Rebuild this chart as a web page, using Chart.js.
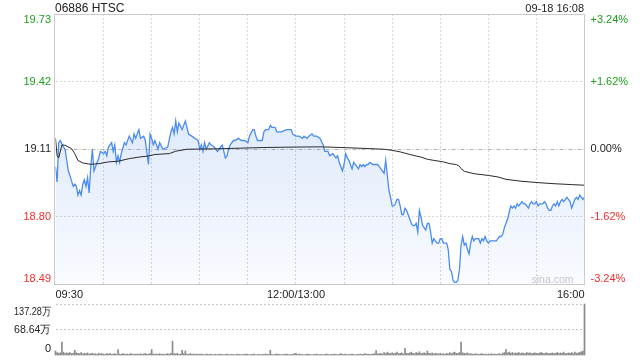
<!DOCTYPE html>
<html><head><meta charset="utf-8">
<script src="https://cdn.jsdelivr.net/npm/chart.js@4"></script>
<style>
html,body{margin:0;padding:0;background:#fff;}
#wrap{position:relative;width:640px;height:360px;overflow:hidden;}
canvas{position:absolute;left:0;top:0;}
</style></head><body>
<div id="wrap"><canvas id="pc" width="640" height="360"></canvas><canvas id="vc" width="640" height="360"></canvas></div>
<script>
const titleText = '06886 HTSC';
const stampText = '09-18 16:08';
const prevClose = 19.11;
const priceTicks = [18.49, 18.80, 19.11, 19.42, 19.73];
const priceTickLabels = ['18.49', '18.80', '19.11', '19.42', '19.73'];
const pctLabels = ['-3.24%', '-1.62%', '0.00%', '+1.62%', '+3.24%'];
const timeTickMinutes = [0, 150, 330];
const timeTickLabels = ['09:30', '12:00/13:00', '16:00'];
const volumeTicks = [0, 68.64, 137.28];
const volumeTickLabels = ['0', '68.64万', '137.28万'];

const priceMinutes = [0,1,2,3,5,6,8,9,11,12,13,14,15,16,17,18,19,20,21,22,23,24,26,27,28,30,31,32,33,35,36,37,38,39,40,41,43,44,46,48,49,50,52,53,55,56,58,59,60,61,62,64,65,67,70,72,73,74,75,76,77,79,81,82,83,85,87,89,90,91,92,93,94,96,97,99,101,102,104,105,106,107,108,109,111,112,114,116,118,120,121,123,124,125,126,129,130,131,133,134,135,137,138,141,144,147,148,150,152,154,155,157,158,160,161,163,165,167,168,170,171,173,174,175,176,177,179,180,181,182,183,184,185,186,188,189,190,191,192,193,194,195,196,198,200,201,202,204,205,206,207,208,209,210,211,212,213,214,215,216,217,218,219,220,221,222,223,224,225,226,227,228,229,230,231,232,233,234,235,236,237,238,239,240,241,242,244,245,246,247,248,249,250,251,252,253,254,255,256,257,258,259,260,261,262,264,265,266,267,268,269,270,271,272,273,274,275,276,277,278,279,280,281,282,283,284,285,286,287,288,289,290,291,292,293,294,295,296,297,298,299,300,301,302,303,304,305,306,307,308,309,310,311,312,313,314,315,316,317,318,319,320,321,322,323,324,325,326,327,328,329,330];
const priceValues = [19.03,18.96,19.14,19.15,19.12,19.11,19.01,18.99,18.94,18.95,18.94,18.90,18.92,18.90,18.95,18.97,18.94,18.98,18.91,19.03,19.11,19.01,19.05,19.07,19.10,19.09,19.10,19.08,19.12,19.14,19.10,19.13,19.05,19.08,19.05,19.09,19.14,19.13,19.17,19.14,19.18,19.16,19.20,19.16,19.17,19.15,19.04,19.18,19.16,19.13,19.15,19.11,19.14,19.11,19.12,19.19,19.21,19.18,19.24,19.19,19.23,19.20,19.24,19.21,19.18,19.17,19.16,19.15,19.11,19.13,19.10,19.14,19.11,19.14,19.13,19.12,19.10,19.11,19.13,19.10,19.07,19.08,19.11,19.13,19.15,19.15,19.16,19.15,19.15,19.14,19.17,19.20,19.20,19.17,19.15,19.15,19.19,19.20,19.20,19.22,19.21,19.21,19.19,19.19,19.20,19.20,19.18,19.17,19.17,19.16,19.17,19.16,19.17,19.18,19.17,19.17,19.16,19.13,19.10,19.10,19.08,19.09,19.08,19.07,19.08,19.05,19.01,19.04,19.09,19.07,19.06,19.04,19.02,19.05,19.03,19.02,19.04,19.03,19.04,19.03,19.04,19.04,19.05,19.04,19.04,19.04,19.03,19.01,19.00,19.06,18.99,18.92,18.89,18.85,18.85,18.86,18.88,18.88,18.85,18.81,18.81,18.84,18.83,18.81,18.79,18.77,18.76,18.76,18.77,18.73,18.83,18.80,18.76,18.75,18.74,18.77,18.77,18.73,18.68,18.70,18.69,18.68,18.68,18.70,18.70,18.68,18.68,18.65,18.56,18.55,18.51,18.50,18.50,18.51,18.56,18.67,18.71,18.67,18.68,18.65,18.63,18.68,18.71,18.69,18.70,18.70,18.68,18.70,18.69,18.71,18.69,18.68,18.69,18.69,18.69,18.69,18.69,18.70,18.71,18.71,18.72,18.75,18.77,18.79,18.82,18.85,18.84,18.85,18.84,18.86,18.85,18.86,18.87,18.86,18.86,18.85,18.84,18.86,18.87,18.86,18.86,18.87,18.85,18.86,18.86,18.86,18.87,18.86,18.84,18.83,18.83,18.85,18.86,18.85,18.87,18.85,18.87,18.88,18.87,18.88,18.89,18.88,18.87,18.84,18.86,18.88,18.89,18.88,18.90,18.89,18.88,18.89];

const avgMinutes = [0,1,2,4,6,10,12,14,17,22,27,33,39,46,52,58,62,71,75,82,100,130,150,166,178,196,205,210,215,221,228,232,236,242,246,250,252,253,255,261,270,276,281,291,301,311,322,330];
const avgValues = [19.16,19.08,19.07,19.13,19.128,19.113,19.09,19.059,19.047,19.041,19.044,19.052,19.055,19.067,19.074,19.079,19.086,19.090,19.101,19.110,19.112,19.118,19.120,19.121,19.118,19.113,19.110,19.105,19.098,19.086,19.074,19.064,19.059,19.052,19.044,19.040,19.032,19.021,19.009,18.998,18.990,18.983,18.972,18.963,18.957,18.952,18.948,18.945];

// volume per minute (万), minute 0..330
const volumeValues = [
12,8,6,7,36,9,5,7,6,8,
5,6,14,7,6,5,8,4,6,5,
7,4,5,6,4,5,3,6,4,5,
4,3,5,4,6,3,4,5,3,16,
4,3,5,4,3,4,3,5,3,4,
3,4,3,5,3,4,6,3,4,5,
16,4,3,4,3,5,3,4,3,4,
5,3,6,38,5,4,6,3,4,14,
5,12,4,3,5,3,4,3,4,3,
3,4,3,2,4,3,3,4,2,3,
3,2,4,3,3,2,3,4,3,2,
3,3,2,4,3,3,2,3,3,4,
3,2,3,3,4,2,3,3,2,3,
3,4,3,3,14,3,2,3,4,3,
3,2,3,3,4,3,2,3,3,5,
6,3,4,3,3,2,3,4,3,3,
2,3,3,4,2,3,3,2,3,4,
3,2,3,3,4,3,2,3,5,3,
3,4,2,3,3,4,3,2,3,3,
4,3,3,5,3,4,3,3,4,5,
13,4,5,6,4,8,5,9,6,5,
7,5,6,9,5,6,7,4,19,6,
5,7,9,6,5,8,6,10,5,6,
7,5,12,6,5,7,4,6,5,4,
6,4,5,3,6,4,8,5,7,9,
6,5,8,36,7,6,5,7,4,5,
4,3,5,4,3,4,5,3,4,3,
4,3,5,3,4,3,4,5,3,6,
8,16,7,9,6,8,5,7,6,8,
5,7,6,5,8,6,7,5,6,7,
6,5,7,8,6,5,7,6,5,6,
7,5,6,8,5,7,6,9,5,6,
7,6,8,5,9,6,7,8,10,12,
137.28];

const FONT = '"Liberation Sans", Arial, Helvetica, sans-serif';
const GREEN = '#1c9f1c', RED = '#ee2d2d', DARK = '#222';
function valColor(v){ return v > prevClose + 1e-9 ? GREEN : (v < prevClose - 1e-9 ? RED : DARK); }

const priceDecor = {
  id: 'priceDecor',
  beforeDatasetsDraw(chart){
    const {ctx, chartArea: a, scales: {y}} = chart;
    ctx.save();
    const py = Math.floor(y.getPixelForValue(prevClose)) + 0.5;
    ctx.strokeStyle = '#b0b0b0'; ctx.lineWidth = 1; ctx.setLineDash([4,2,1,2]);
    ctx.beginPath(); ctx.moveTo(a.left, py); ctx.lineTo(a.right, py); ctx.stroke();
    ctx.setLineDash([]);
    ctx.font = '10.5px ' + FONT; ctx.fillStyle = '#cbcbcb';
    ctx.textAlign = 'right'; ctx.textBaseline = 'alphabetic';
    ctx.fillText('sina.com', a.right - 11, a.bottom - 1.5);
    ctx.restore();
  },
  afterDraw(chart){
    const {ctx, chartArea: a, scales: {x, y}} = chart;
    ctx.save();
    ctx.strokeStyle = '#cacaca'; ctx.lineWidth = 1;
    const l = Math.floor(a.left) - 0.5, t = Math.floor(a.top) + 0.5;
    ctx.strokeRect(l, t, Math.floor(a.right) - Math.floor(a.left) + 1, Math.floor(a.bottom) - Math.floor(a.top));
    ctx.font = '11px ' + FONT; ctx.textBaseline = 'middle';
    priceTicks.forEach((v, i) => {
      let py = y.getPixelForValue(v);
      if (i === 0) py -= 6; else if (i === priceTicks.length - 1) py += 6;
      ctx.fillStyle = valColor(v);
      ctx.textAlign = 'right'; ctx.fillText(priceTickLabels[i], a.left - 4.5, py);
      ctx.textAlign = 'left'; ctx.fillText(pctLabels[i], a.right + 6, py);
    });
    ctx.fillStyle = DARK; ctx.font = '11px ' + FONT;
    timeTickMinutes.forEach((m, i) => {
      const px = x.getPixelForValue(m);
      ctx.textAlign = i === 0 ? 'left' : (i === timeTickMinutes.length - 1 ? 'right' : 'center');
      ctx.fillText(timeTickLabels[i], px, a.bottom + 10);
    });
    ctx.textBaseline = 'alphabetic';
    ctx.font = '12px ' + FONT; ctx.textAlign = 'left';
    ctx.fillText(titleText, a.left - 0.5, 12);
    ctx.font = '11px ' + FONT; ctx.textAlign = 'right';
    ctx.fillText(stampText, a.right - 0.5, 12);
    ctx.restore();
  }
};

const volDecor = {
  id: 'volDecor',
  afterDraw(chart){
    const {ctx, chartArea: a, scales: {y}} = chart;
    ctx.save();
    ctx.font = '11px ' + FONT; ctx.textBaseline = 'middle'; ctx.textAlign = 'right'; ctx.fillStyle = DARK;
    volumeTicks.forEach((v, i) => {
      let py = y.getPixelForValue(v);
      if (i === 0) py -= 7; else if (i === volumeTicks.length - 1) py += 7.5;
      ctx.fillText(volumeTickLabels[i], a.left - 4.5, py, 37);
    });
    ctx.restore();
  }
};

const zeroFit = (s) => { if (s.isHorizontal()) s.height = 0; else s.width = 0; };

const gradFill = (c) => {
  const chart = c.chart; const a = chart.chartArea;
  if (!a) return 'rgba(100,150,235,0.15)';
  const g = chart.ctx.createLinearGradient(0, a.top, 0, a.bottom);
  g.addColorStop(0, 'rgba(100,150,235,0.30)');
  g.addColorStop(1, 'rgba(100,150,235,0.04)');
  return g;
};

new Chart(document.getElementById('pc'), {
  type: 'line',
  data: {
    datasets: [
      { data: priceMinutes.map((m, i) => ({x: m, y: priceValues[i]})), borderColor: '#4a8cf0', borderWidth: 1.3,
        pointRadius: 0, tension: 0, fill: 'start', backgroundColor: gradFill, order: 2 },
      { data: avgMinutes.map((m, i) => ({x: m, y: avgValues[i]})), borderColor: '#2a2a2a', borderWidth: 1,
        pointRadius: 0, tension: 0, fill: false, order: 1 }
    ]
  },
  options: {
    responsive: false, animation: false, events: [], devicePixelRatio: 1,
    layout: { padding: { left: 55.5, right: 55.5, top: 14, bottom: 75.5 } },
    plugins: { legend: { display: false }, tooltip: { enabled: false } },
    scales: {
      x: { type: 'linear', min: 0, max: 330, afterFit: zeroFit,
        ticks: { display: false, stepSize: 30 },
        afterBuildTicks: (s) => { const t = []; for (let m = 0; m <= 330; m += 30) t.push({value: m}); s.ticks = t; },
        grid: { drawTicks: false, color: (c) => (c.tick && (c.tick.value === 0 || c.tick.value === 330)) ? 'rgba(0,0,0,0)' : '#d6d6d6' },
        border: { display: false, dash: [2, 2] } },
      y: { type: 'linear', min: priceTicks[0], max: priceTicks[priceTicks.length - 1], afterFit: zeroFit,
        afterBuildTicks: (s) => { s.ticks = priceTicks.map(v => ({value: v})); },
        ticks: { display: false },
        grid: { drawTicks: false, color: (c) => (c.tick && (c.tick.value === priceTicks[0] || c.tick.value === priceTicks[4] || c.tick.value === prevClose)) ? 'rgba(0,0,0,0)' : '#d6d6d6' },
        border: { display: false, dash: [2, 2] } }
    }
  },
  plugins: [priceDecor]
});

new Chart(document.getElementById('vc'), {
  type: 'bar',
  data: { datasets: [{ data: volumeValues.map((v, i) => ({x: i, y: v})), backgroundColor: '#8a8a8a', barThickness: 1, clip: false }] },
  options: {
    responsive: false, animation: false, events: [], devicePixelRatio: 1,
    layout: { padding: { left: 55.5, right: 55.5, top: 304, bottom: 4.5 } },
    plugins: { legend: { display: false }, tooltip: { enabled: false } },
    scales: {
      x: { type: 'linear', min: 0, max: 330, offset: false, afterFit: zeroFit, ticks: { display: false }, grid: { display: false }, border: { display: false } },
      y: { type: 'linear', min: 0, max: volumeTicks[2], afterFit: zeroFit,
        afterBuildTicks: (s) => { s.ticks = volumeTicks.map(v => ({value: v})); },
        ticks: { display: false },
        grid: { drawTicks: false, color: (c) => (c.tick && c.tick.value === 0) ? 'rgba(0,0,0,0)' : '#c8c8c8' },
        border: { display: false, dash: [2, 2] } }
    }
  },
  plugins: [volDecor]
});
</script>
</body></html>
